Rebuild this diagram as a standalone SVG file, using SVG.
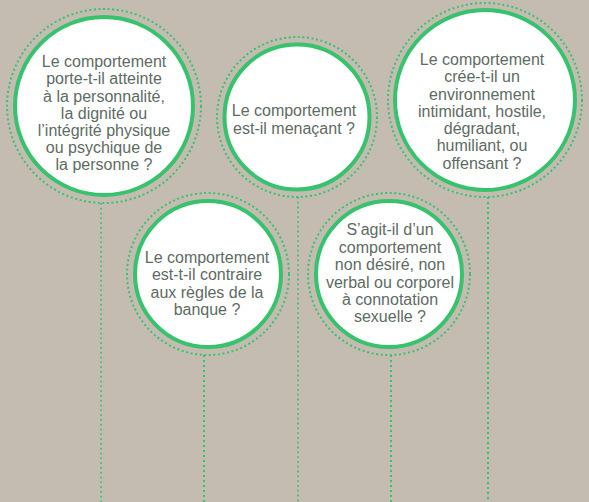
<svg xmlns="http://www.w3.org/2000/svg" width="589" height="502" viewBox="0 0 589 502">
<style>
.ring{fill:#ffffff;stroke:#37c26d;stroke-width:4}
.dots{fill:none;stroke:#37c26d;stroke-width:2;stroke-dasharray:2 2.6}
.ln{stroke:#37c26d;stroke-width:2;stroke-dasharray:2 3}
.ln.thin{stroke-width:1.6;stroke-dasharray:1.8 3}
text{font-family:"Liberation Sans",Arial,sans-serif;font-size:16px;fill:#5e6b63;text-anchor:middle}
</style>
<rect width="589" height="502" fill="#c5bcb1"/>
<g id="connectors">
<line class="ln thin" x1="101" y1="203" x2="101" y2="502"/>
<line class="ln" x1="204" y1="355" x2="204" y2="502"/>
<line class="ln thin" x1="298" y1="197" x2="298" y2="502"/>
<line class="ln" x1="391" y1="355" x2="391" y2="502"/>
<line class="ln" x1="488" y1="197" x2="488" y2="502"/>
</g>
<g id="node1">
<circle class="dots" cx="104" cy="106" r="97"/>
<circle class="ring" cx="104" cy="106" r="89"/>
<text x="104" y="67">Le comportement</text>
<text x="104" y="84">porte-t-il atteinte</text>
<text x="104" y="101.5">à la personnalité,</text>
<text x="104" y="118.5">la dignité ou</text>
<text x="104" y="135.5">l’intégrité physique</text>
<text x="104" y="152.5">ou psychique de</text>
<text x="104" y="169.5">la personne ?</text>
</g>
<g id="node2">
<circle class="dots" cx="297" cy="117" r="80"/>
<circle class="ring" cx="297" cy="117" r="72.5"/>
<text x="294" y="116">Le comportement</text>
<text x="294" y="134">est-il menaçant ?</text>
</g>
<g id="node3">
<circle class="dots" cx="485" cy="100" r="97"/>
<circle class="ring" cx="485" cy="100" r="90"/>
<text x="482" y="65">Le comportement</text>
<text x="482" y="82">crée-t-il un</text>
<text x="482" y="99.5">environnement</text>
<text x="482" y="117">intimidant, hostile,</text>
<text x="482" y="134">dégradant,</text>
<text x="482" y="151">humiliant, ou</text>
<text x="482" y="168.5">offensant ?</text>
</g>
<g id="node4">
<circle class="dots" cx="208" cy="274" r="81"/>
<circle class="ring" cx="208" cy="274" r="73"/>
<text x="207" y="263">Le comportement</text>
<text x="207" y="280">est-t-il contraire</text>
<text x="207" y="297.5">aux règles de la</text>
<text x="207" y="314.5">banque ?</text>
</g>
<g id="node5">
<circle class="dots" cx="389" cy="274" r="81"/>
<circle class="ring" cx="389" cy="274" r="73"/>
<text x="390" y="234.5">S’agit-il d’un</text>
<text x="390" y="252.5">comportement</text>
<text x="390" y="270">non désiré, non</text>
<text x="390" y="287.5">verbal ou corporel</text>
<text x="390" y="304.5">à connotation</text>
<text x="390" y="322">sexuelle ?</text>
</g>
</svg>
